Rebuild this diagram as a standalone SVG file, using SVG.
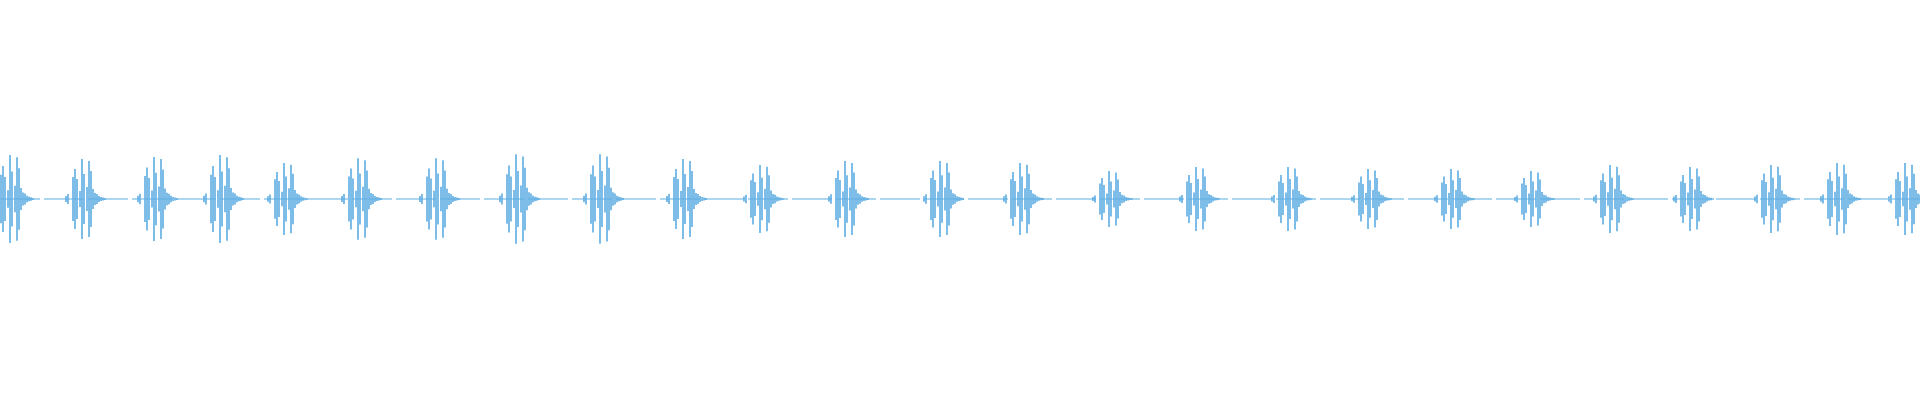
<svg xmlns="http://www.w3.org/2000/svg" width="1920" height="400" viewBox="0 0 1920 400">
<style>.w{stroke:#5dade2;fill:none}</style>
<defs>
<path id="b" class="w" stroke-width="1.6" d="M-16,-3V3M-14,-5V5M-9,-22V22M-7,-30V30M-5,-20V20M-2,-8V8M0,-40V40M2,-25V25M5,-12V12M7,-38V38M9,-28V28M11,-10V10M13,-6V6M15,-5V5M17,-3V3M19,-2V2M21,-1.5V1.5M23,-1V1"/>
</defs>
<g id="baseline"><line class="w" x1="0" y1="199" x2="1920" y2="199" stroke-width="1" stroke-dasharray="40 4"/></g>
<g id="bursts">
<use href="#b" transform="translate(10,199) scale(1,1.1)"/>
<use href="#b" transform="translate(82,199) scale(1,1.0)"/>
<use href="#b" transform="translate(154,199) scale(1,1.05)"/>
<use href="#b" transform="translate(220,199) scale(1,1.1)"/>
<use href="#b" transform="translate(284,199) scale(1,0.9)"/>
<use href="#b" transform="translate(358,199) scale(1,1.02)"/>
<use href="#b" transform="translate(436,199) scale(1,1.02)"/>
<use href="#b" transform="translate(516,199) scale(1,1.12)"/>
<use href="#b" transform="translate(600,199) scale(1,1.12)"/>
<use href="#b" transform="translate(683,199) scale(1,1.0)"/>
<use href="#b" transform="translate(760,199) scale(1,0.85)"/>
<use href="#b" transform="translate(845,199) scale(1,0.95)"/>
<use href="#b" transform="translate(940,199) scale(1,0.95)"/>
<use href="#b" transform="translate(1020,199) scale(1,0.9)"/>
<use href="#b" transform="translate(1109,199) scale(1,0.7)"/>
<use href="#b" transform="translate(1196,199) scale(1,0.8)"/>
<use href="#b" transform="translate(1288,199) scale(1,0.8)"/>
<use href="#b" transform="translate(1368,199) scale(1,0.75)"/>
<use href="#b" transform="translate(1451,199) scale(1,0.75)"/>
<use href="#b" transform="translate(1531,199) scale(1,0.7)"/>
<use href="#b" transform="translate(1610,199) scale(1,0.85)"/>
<use href="#b" transform="translate(1690,199) scale(1,0.8)"/>
<use href="#b" transform="translate(1771,199) scale(1,0.85)"/>
<use href="#b" transform="translate(1837,199) scale(1,0.9)"/>
<use href="#b" transform="translate(1905,199) scale(1,0.9)"/>
</g>
</svg>
